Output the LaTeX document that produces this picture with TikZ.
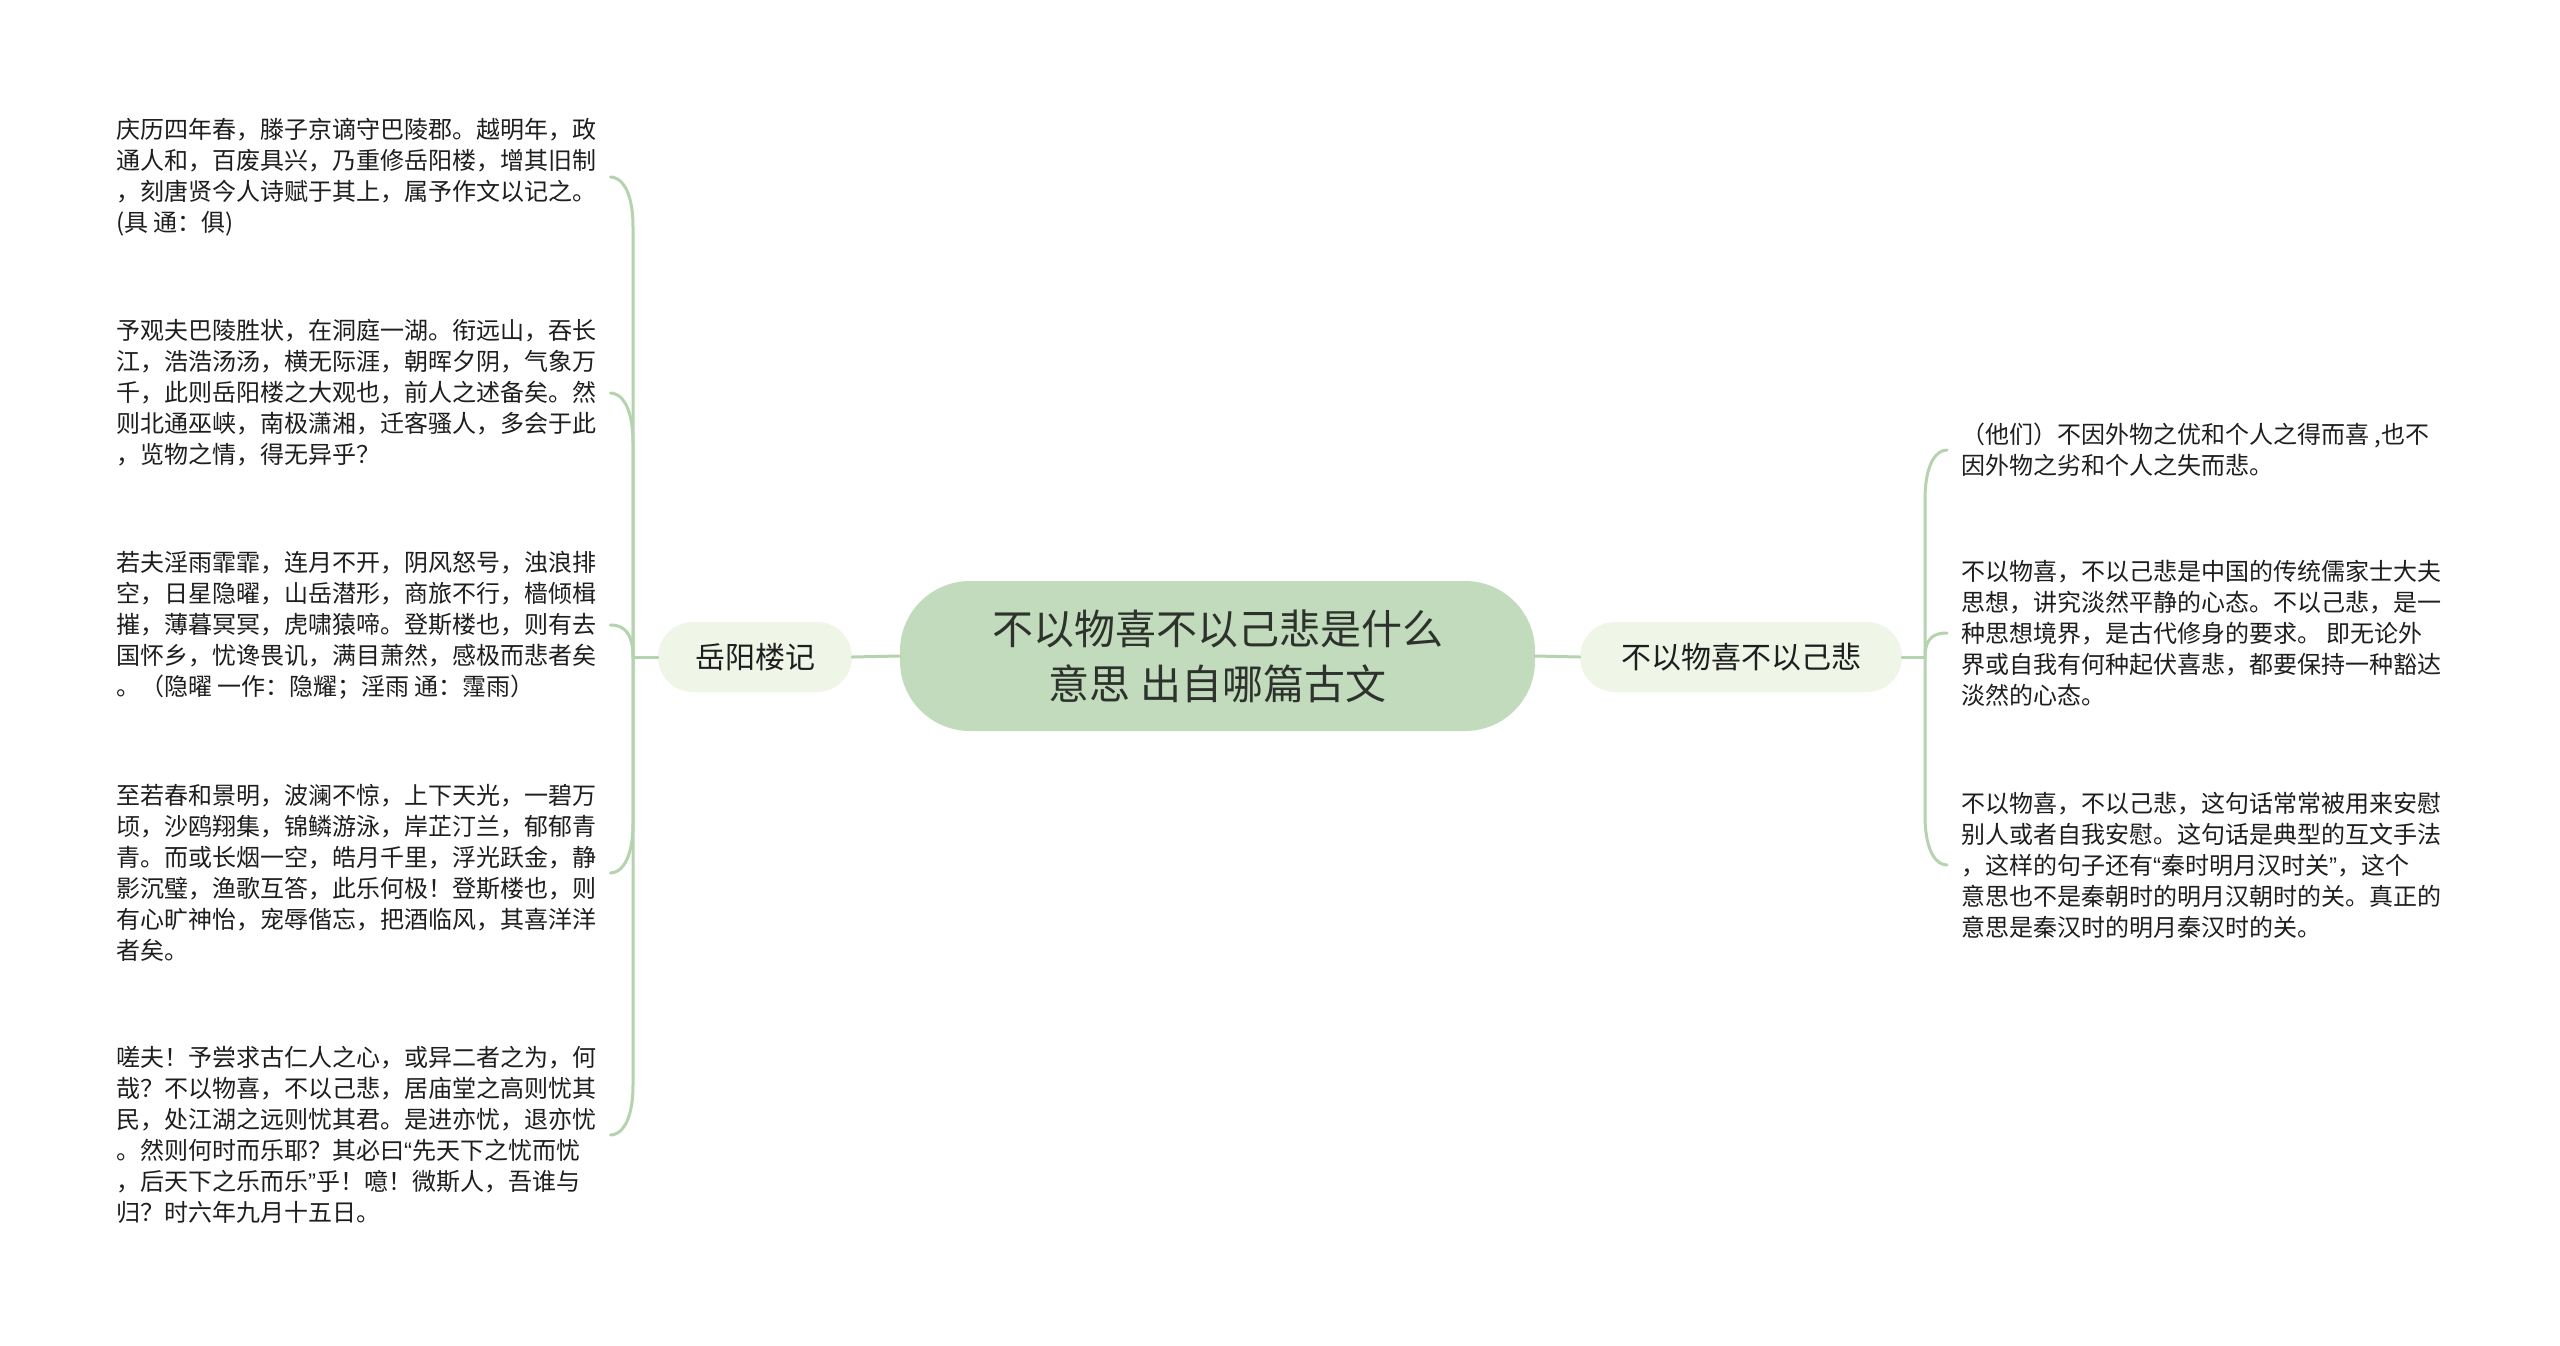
\documentclass[tikz,border=0pt]{standalone}
\usepackage{fontspec}
\setmainfont{Noto Sans CJK SC}
\newfontfamily\qfont{Liberation Sans}
\newcommand{\myLQ}{{\qfont “}}
\newcommand{\myRQ}{{\qfont ”}}
\usetikzlibrary{calc}
\definecolor{linecol}{RGB}{181,211,174}
\definecolor{rootfill}{RGB}{194,219,189}
\definecolor{subfill}{RGB}{239,245,231}
\definecolor{txt}{RGB}{30,30,30}
\definecolor{roottxt}{RGB}{45,50,45}
\begin{document}
\begin{tikzpicture}[x=1pt,y=-1pt,
  rootnode/.style={fill=rootfill, rounded corners=70pt, minimum width=635pt, minimum height=150pt,
    inner sep=0pt, align=center, text=roottxt, font=\fontsize{41}{55}\selectfont},
  subnode/.style={fill=subfill, rounded corners=35pt, minimum height=70pt, inner sep=0pt,
    text=txt, font=\fontsize{30}{36}\selectfont},
  leaf/.style={inner xsep=14pt, inner ysep=0pt, align=left, anchor=west, text=txt,
    font=\fontsize{24}{31}\selectfont},
  conn/.style={draw=linecol, line width=3pt, line cap=round}]
\fill[white] (0,0) rectangle (2560,1346);
\useasboundingbox (0,0) rectangle (2560,1346);

% main nodes
\node[rootnode] (root) at (1217.5,656) {不以物喜不以己悲是什么\\意思 出自哪篇古文};
\node[subnode, minimum width=194pt] (yl) at (755,657) {岳阳楼记};
\node[subnode, minimum width=322pt] (rn) at (1741,657) {不以物喜不以己悲};

% junction points
\coordinate (jl) at (633,657);
\coordinate (jr) at (1925,657);

% left leaves
\node[leaf] (l1) at (102,177) {庆历四年春，滕子京谪守巴陵郡。越明年，政\\通人和，百废具兴，乃重修岳阳楼，增其旧制\\，刻唐贤今人诗赋于其上，属予作文以记之。\\(具 通：俱)};
\node[leaf] (l2) at (102,393) {予观夫巴陵胜状，在洞庭一湖。衔远山，吞长\\江，浩浩汤汤，横无际涯，朝晖夕阴，气象万\\千，此则岳阳楼之大观也，前人之述备矣。然\\则北通巫峡，南极潇湘，迁客骚人，多会于此\\，览物之情，得无异乎？};
\node[leaf] (l3) at (102,625) {若夫淫雨霏霏，连月不开，阴风怒号，浊浪排\\空，日星隐曜，山岳潜形，商旅不行，樯倾楫\\摧，薄暮冥冥，虎啸猿啼。登斯楼也，则有去\\国怀乡，忧谗畏讥，满目萧然，感极而悲者矣\\。（隐曜 一作：隐耀；淫雨 通：霪雨）};
\node[leaf] (l4) at (102,873) {至若春和景明，波澜不惊，上下天光，一碧万\\顷，沙鸥翔集，锦鳞游泳，岸芷汀兰，郁郁青\\青。而或长烟一空，皓月千里，浮光跃金，静\\影沉璧，渔歌互答，此乐何极！登斯楼也，则\\有心旷神怡，宠辱偕忘，把酒临风，其喜洋洋\\者矣。};
\node[leaf] (l5) at (102,1135) {嗟夫！予尝求古仁人之心，或异二者之为，何\\哉？不以物喜，不以己悲，居庙堂之高则忧其\\民，处江湖之远则忧其君。是进亦忧，退亦忧\\。然则何时而乐耶？其必曰\myLQ 先天下之忧而忧\\，后天下之乐而乐\myRQ 乎！噫！微斯人，吾谁与\\归？时六年九月十五日。};

% right leaves
\node[leaf] (r1) at (1947,450) {（他们）不因外物之优和个人之得而喜 ,也不\\因外物之劣和个人之失而悲。};
\node[leaf] (r2) at (1947,633) {不以物喜，不以己悲是中国的传统儒家士大夫\\思想，讲究淡然平静的心态。不以己悲，是一\\种思想境界，是古代修身的要求。 即无论外\\界或自我有何种起伏喜悲，都要保持一种豁达\\淡然的心态。};
\node[leaf] (r3) at (1947,865) {不以物喜，不以己悲，这句话常常被用来安慰\\别人或者自我安慰。这句话是典型的互文手法\\，这样的句子还有\myLQ 秦时明月汉时关\myRQ ，这个\\意思也不是秦朝时的明月汉朝时的关。真正的\\意思是秦汉时的明月秦汉时的关。};

% main connectors
\draw[conn] (root.west) -- (yl.east);
\draw[conn] (root.east) -- (rn.west);
\draw[conn] (yl.west) -- (jl);
\draw[conn] (rn.east) -- (jr);

% left branches
\draw[conn] (jl) -- ($(jl|-l1.east)+(0,50)$) .. controls ($(jl|-l1.east)+(0,12)$) and ($(l1.east)+(10,0)$) .. (l1.east);
\draw[conn] (jl) -- ($(jl|-l2.east)+(0,50)$) .. controls ($(jl|-l2.east)+(0,12)$) and ($(l2.east)+(10,0)$) .. (l2.east);
\draw[conn] (jl) .. controls ($(jl)+(0,-26)$) and ($(l3.east)+(12,0)$) .. (l3.east);
\draw[conn] (jl) -- ($(jl|-l4.east)+(0,-50)$) .. controls ($(jl|-l4.east)+(0,-12)$) and ($(l4.east)+(10,0)$) .. (l4.east);
\draw[conn] (jl) -- ($(jl|-l5.east)+(0,-50)$) .. controls ($(jl|-l5.east)+(0,-12)$) and ($(l5.east)+(10,0)$) .. (l5.east);

% right branches
\draw[conn] (jr) -- ($(jr|-r1.west)+(0,50)$) .. controls ($(jr|-r1.west)+(0,12)$) and ($(r1.west)+(-10,0)$) .. (r1.west);
\draw[conn] (jr) .. controls ($(jr)+(0,-20)$) and ($(r2.west)+(-12,0)$) .. (r2.west);
\draw[conn] (jr) -- ($(jr|-r3.west)+(0,-50)$) .. controls ($(jr|-r3.west)+(0,-12)$) and ($(r3.west)+(-10,0)$) .. (r3.west);
\end{tikzpicture}
\end{document}
